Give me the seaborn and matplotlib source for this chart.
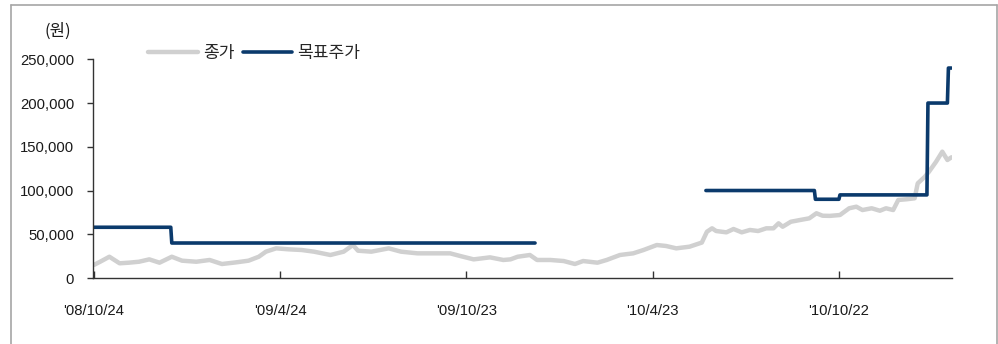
import numpy as np
import pandas as pd
import matplotlib
matplotlib.use("Agg")
import matplotlib.pyplot as plt
from matplotlib.lines import Line2D
from matplotlib.ticker import FuncFormatter
import seaborn as sns

# ---- data ----
price_dates = [
    "2008-10-24", "2008-10-30", "2008-11-08", "2008-11-18", "2008-11-27", "2008-12-07",
    "2008-12-17", "2008-12-27", "2009-01-08", "2009-01-18", "2009-02-01", "2009-02-14",
    "2009-02-26", "2009-03-12", "2009-03-24", "2009-04-03", "2009-04-10", "2009-04-20",
    "2009-05-02", "2009-05-15", "2009-05-27", "2009-06-12", "2009-06-25", "2009-07-04",
    "2009-07-09", "2009-07-22", "2009-08-08", "2009-08-20", "2009-09-05", "2009-09-21",
    "2009-10-07", "2009-10-17", "2009-10-30", "2009-11-15", "2009-11-28", "2009-12-05",
    "2009-12-12", "2009-12-24", "2009-12-31", "2010-01-13", "2010-01-26", "2010-02-06",
    "2010-02-14", "2010-02-28", "2010-03-09", "2010-03-22", "2010-04-04", "2010-04-14",
    "2010-04-27", "2010-05-06", "2010-05-16", "2010-05-29", "2010-06-10", "2010-06-15",
    "2010-06-20", "2010-06-24", "2010-07-04", "2010-07-11", "2010-07-19", "2010-07-27",
    "2010-08-04", "2010-08-12", "2010-08-19", "2010-08-24", "2010-08-28", "2010-09-05",
    "2010-09-14", "2010-09-23", "2010-09-30", "2010-10-06", "2010-10-13", "2010-10-23",
    "2010-11-01", "2010-11-08", "2010-11-14", "2010-11-23", "2010-12-01", "2010-12-07",
    "2010-12-14", "2010-12-19", "2010-12-27", "2011-01-04", "2011-01-07", "2011-01-14",
    "2011-01-18", "2011-01-25", "2011-01-31", "2011-02-05", "2011-02-09",
]
price_values = [
    15000, 18600, 24300, 16800, 17500, 18600,
    21300, 17500, 24300, 19800, 18600, 20600,
    16000, 17900, 19800, 24300, 30100, 33900,
    32800, 32000, 30100, 26300, 30100, 37700,
    31200, 30100, 33900, 30100, 28200, 28200,
    28200, 25100, 21300, 23600, 20600, 21300,
    24300, 26300, 20600, 20600, 19400, 16000,
    19400, 17500, 20600, 26300, 28200, 32000,
    37700, 36600, 33900, 35800, 40500, 52900,
    56800, 53700, 52200, 56000, 52200, 54900,
    53700, 56800, 56800, 62500, 58600, 64300,
    66300, 68200, 74000, 71200, 71000, 72000,
    79700, 81500, 77700, 79700, 76900, 79700,
    77700, 89200, 90000, 91100, 108200, 115800,
    121500, 133000, 144400, 134900, 138000,
]
target_change_dates = ["2008-10-24", "2009-01-08", "2009-12-30", "2010-06-14",
                       "2010-09-29", "2010-10-23", "2011-01-17", "2011-02-06"]
target_values = [58000, 40000, np.nan, 100000, 90000, 95000, 200000, 240000]
target_end = "2011-02-09"

x_tick_dates = ["2008-10-24", "2009-04-24", "2009-10-23", "2010-04-23", "2010-10-22"]
x_tick_labels = ["'08/10/24", "'09/4/24", "'09/10/23", "'10/4/23", "'10/10/22"]
y_ticks = [0, 50000, 100000, 150000, 200000, 250000]

series_names = ["종가", "목표주가"]
unit_label = "(원)"

# ---- style ----
sns.set_theme(style="white")
plt.rcParams["font.family"] = ["Liberation Sans", "Noto Sans CJK KR", "DejaVu Sans"]
plt.rcParams["axes.unicode_minus"] = False

GRAY = "#d0d0d0"
NAVY = "#0b3a6c"
TXT = "#1a1a1a"
FS = 10.7

fig = plt.figure(figsize=(9.98, 3.44), dpi=100)
ax = fig.add_axes([93 / 998, 1 - 278 / 344, (952 - 93) / 998, (278 - 59.3) / 344])

# price
price_df = pd.DataFrame({"date": pd.to_datetime(price_dates), "price": price_values})
sns.lineplot(data=price_df, x="date", y="price", ax=ax, color=GRAY, linewidth=3.2,
             estimator=None, legend=False)

# target price: daily step series built from change points
chg = pd.to_datetime(target_change_dates)
days = pd.date_range(chg[0], pd.to_datetime(target_end), freq="D")
pos = np.searchsorted(chg.values, days.values, side="right") - 1
tvals = np.asarray(target_values, dtype=float)[pos]
tdf = pd.DataFrame({"date": days, "target": tvals})
tdf["seg"] = tdf["target"].isna().cumsum()
tdf = tdf.dropna()
for _, g in tdf.groupby("seg"):
    sns.lineplot(data=g, x="date", y="target", ax=ax, color=NAVY, linewidth=2.6,
                 estimator=None, legend=False)

ax.set_xlim(pd.Timestamp("2008-10-23"), pd.Timestamp("2011-02-09 12:00"))
ax.set_ylim(0, 250000)
ax.set_xlabel("")
ax.set_ylabel("")

ax.set_yticks(y_ticks)
ax.yaxis.set_major_formatter(FuncFormatter(lambda v, p: f"{int(v):,}"))
ax.set_xticks(pd.to_datetime(x_tick_dates))
ax.set_xticklabels(x_tick_labels)

for s in ["top", "right"]:
    ax.spines[s].set_visible(False)
for s in ["left", "bottom"]:
    ax.spines[s].set_color("#333333")
    ax.spines[s].set_linewidth(1.0)

ax.tick_params(axis="y", direction="out", length=4, width=1, color="#333333",
               pad=9.5, labelsize=FS, labelcolor=TXT, left=True)
ax.tick_params(axis="x", direction="in", length=5, width=1, color="#333333",
               pad=19, labelsize=FS, labelcolor=TXT, bottom=True)

# legend
handles = [Line2D([], [], color=GRAY, linewidth=3.2),
           Line2D([], [], color=NAVY, linewidth=2.6)]
fig.legend(handles, series_names, loc="center left", ncol=2, frameon=False,
           bbox_to_anchor=(148 / 998, 1 - 52.7 / 344), bbox_transform=fig.transFigure,
           borderpad=0, borderaxespad=0, handlelength=2.9, handletextpad=0.3,
           columnspacing=0.5, prop={"family": ["Noto Sans CJK KR"], "size": 12.3})

fig.text(58 / 998, 1 - 31.5 / 344, unit_label, ha="center", va="center",
         fontsize=12, color=TXT, family=["Noto Sans CJK KR"])

# outer frame
fc = "#a6a6a6"
fig.add_artist(Line2D([11 / 998, 11 / 998], [0, 1 - 5 / 344], color=fc, lw=1.2,
                      transform=fig.transFigure))
fig.add_artist(Line2D([11 / 998, 997 / 998], [1 - 5 / 344, 1 - 5 / 344], color=fc, lw=1.2,
                      transform=fig.transFigure))
fig.add_artist(Line2D([997 / 998, 997 / 998], [0, 1 - 5 / 344], color=fc, lw=1.2,
                      transform=fig.transFigure))

fig.savefig("out.png", dpi=100)
